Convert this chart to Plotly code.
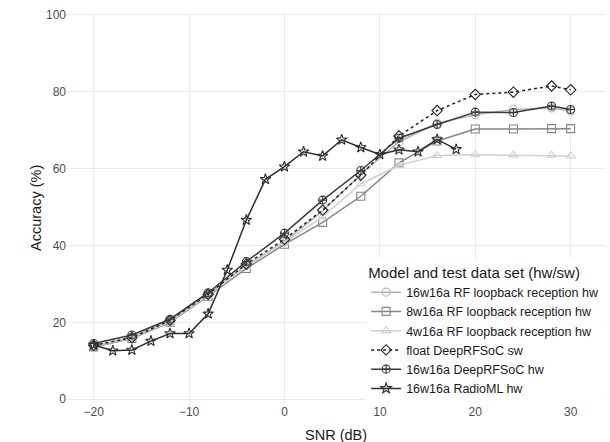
import plotly.graph_objects as go

snr_step4 = [-20, -16, -12, -8, -4, 0, 4, 8, 12, 16, 20, 24, 28, 30]
snr_step2 = [-20, -18, -16, -14, -12, -10, -8, -6, -4, -2, 0, 2, 4, 6, 8, 10, 12, 14, 16, 18]

rf_16w16a = [13.8, 16.2, 20.3, 27.2, 34.8, 41.0, 49.0, 58.5, 67.0, 71.8, 74.0, 75.4, 75.8, 75.0]
rf_8w16a = [13.6, 15.8, 20.0, 26.8, 34.0, 40.3, 46.0, 52.8, 61.5, 67.2, 70.3, 70.3, 70.4, 70.4]
rf_4w16a = [13.7, 16.0, 20.2, 27.0, 34.5, 40.8, 47.5, 56.0, 60.8, 63.4, 63.6, 63.5, 63.5, 63.3]
float_sw = [14.0, 16.0, 20.5, 27.3, 35.2, 41.6, 49.2, 58.3, 68.5, 75.1, 79.3, 79.9, 81.5, 80.5]
deeprfsoc_hw = [14.5, 16.7, 20.8, 27.7, 35.8, 43.2, 51.8, 59.5, 67.9, 71.5, 74.7, 74.6, 76.3, 75.4]
radioml_hw = [14.1, 12.6, 12.8, 15.1, 17.1, 17.1, 22.2, 33.6, 46.6, 57.2, 60.5, 64.4, 63.3,
              67.5, 65.5, 63.7, 64.9, 64.4, 67.6, 65.0]

x_tick_vals = [-20, -10, 0, 10, 20, 30]
x_tick_text = ["\u221220", "\u221210", "0", "10", "20", "30"]
y_tick_vals = [0, 20, 40, 60, 80, 100]

names = [
    "16w16a RF loopback reception hw",
    "8w16a RF loopback reception hw",
    "4w16a RF loopback reception hw",
    "float DeepRFSoC sw",
    "16w16a DeepRFSoC hw",
    "16w16a RadioML hw",
]
x_vals = [snr_step4, snr_step4, snr_step4, snr_step4, snr_step4, snr_step2]
y_vals = [rf_16w16a, rf_8w16a, rf_4w16a, float_sw, deeprfsoc_hw, radioml_hw]
colors = ["#b4b4b4", "#858585", "#d0d0d0", "#222222", "#3a3a3a", "#2e2e2e"]
symbols = ["circle-open", "square-open", "triangle-up-open", "diamond-open",
           "circle-cross-open", "star-open"]
dashes = ["solid", "solid", "solid", "dot", "solid", "solid"]

fig = go.Figure()
for n, xs, ys, c, s, d in zip(names, x_vals, y_vals, colors, symbols, dashes):
    fig.add_trace(go.Scatter(
        x=xs, y=ys, name=n, mode="lines+markers",
        line=dict(color=c, width=1.5, dash=d),
        marker=dict(symbol=s, size=8, color=c, line=dict(color=c, width=1.1)),
    ))

fig.update_layout(
    width=610, height=442,
    margin=dict(l=67, r=5, t=13, b=39),
    paper_bgcolor="white", plot_bgcolor="white",
    font=dict(family="Liberation Sans, Arial, sans-serif", size=12, color="#4d4d4d"),
    showlegend=True,
    legend=dict(
        title=dict(text="Model and test data set (hw/sw)",
                   font=dict(size=15, color="#1a1a1a")),
        font=dict(size=12.5, color="#1a1a1a"),
        x=0.556, y=0.0, xanchor="left", yanchor="bottom",
        bgcolor="white", borderwidth=0, tracegroupgap=0, itemwidth=30,
    ),
    annotations=[
        dict(text="SNR (dB)", xref="paper", yref="paper", x=0.5, y=0,
             xanchor="center", yanchor="middle", yshift=-32, showarrow=False,
             font=dict(size=14.5, color="#1a1a1a")),
        dict(text="Accuracy (%)", xref="paper", yref="paper", x=0, y=0.5,
             xanchor="center", yanchor="middle", xshift=-31, textangle=-90,
             showarrow=False, font=dict(size=14.5, color="#1a1a1a")),
    ],
)
fig.update_xaxes(
    range=[-22.8, 33.6], tickvals=x_tick_vals, ticktext=x_tick_text,
    showgrid=True, gridcolor="#ebebeb", gridwidth=1, zeroline=False,
    showline=False, ticks="", automargin=False,
    tickfont=dict(size=12, color="#4d4d4d"),
)
fig.update_yaxes(
    range=[-1, 100.5], tickvals=y_tick_vals,
    showgrid=True, gridcolor="#ebebeb", gridwidth=1, zeroline=False,
    showline=False, ticks="", automargin=False,
    tickfont=dict(size=12, color="#4d4d4d"),
)

fig.write_html("out.html", config={"displayModeBar": False},
               post_script="document.body.style.margin='0';")
